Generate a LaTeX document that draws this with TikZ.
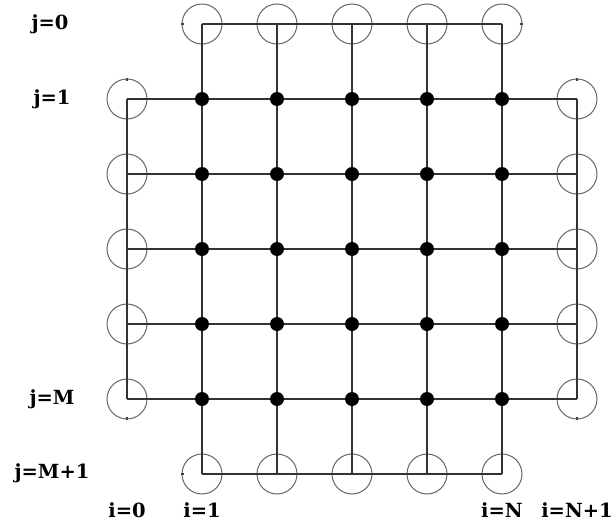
\documentclass[tikz,border=0pt]{standalone}
\usepackage{fontspec}
\setmainfont{DejaVu Serif}
\begin{document}
\begin{tikzpicture}[x=1pt,y=-1pt,
  gridline/.style={line width=2.2pt,draw=black!80},
  ghost/.style={circle,draw=black!60,line width=1pt,minimum size=40pt,inner sep=0pt,outer sep=0pt},
  interior/.style={circle,fill=black,minimum size=14pt,inner sep=0pt},
  lbl/.style={font=\fontsize{19.5}{22}\selectfont\bfseries,inner sep=0pt},
  tick/.style={draw=black!75,line width=1.3pt}]
\useasboundingbox (0,0) rectangle (614,525);
% grid coordinates
\foreach \i in {0,...,6}{
  \foreach \j in {0,...,6}{
    \coordinate (p\i-\j) at ({127+75*\i},{24+75*\j});
  }
}
% ghost circles
\foreach \k in {1,...,5}{
  \node[ghost] (t\k) at (p\k-0) {};
  \node[ghost] (b\k) at (p\k-6) {};
  \node[ghost] (l\k) at (p0-\k) {};
  \node[ghost] (r\k) at (p6-\k) {};
}
% lines
\foreach \k in {1,...,5}{
  \draw[gridline] (p0-\k) -- (p6-\k);
  \draw[gridline] (p\k-0) -- (p\k-6);
}
\draw[gridline] (p1-0) -- (p5-0);
\draw[gridline] (p1-6) -- (p5-6);
\draw[gridline] (p0-1) -- (p0-5);
\draw[gridline] (p6-1) -- (p6-5);
% interior dots
\foreach \i in {1,...,5}{
  \foreach \j in {1,...,5}{
    \node[interior] (d\i-\j) at (p\i-\j) {};
  }
}
% small ticks on corner circles
\draw[tick] (t1.west) ++(-1,0) -- ++(3,0);
\draw[tick] (t5.east) ++(1,0) -- ++(-3,0);
\draw[tick] (l1.north) ++(0,-1) -- ++(0,3);
\draw[tick] (r1.north) ++(0,-1) -- ++(0,3);
\draw[tick] (l5.south) ++(0,1) -- ++(0,-3);
\draw[tick] (r5.south) ++(0,1) -- ++(0,-3);
\draw[tick] (b1.west) ++(-1,0) -- ++(3,0);
% labels
\node[lbl] (lj0) at (50,24) {j=0};
\node[lbl] (lj1) at (52,99) {j=1};
\node[lbl] (ljM) at (52,399) {j=M};
\node[lbl] (ljM1) at (52,473) {j=M+1};
\node[lbl] (li0) at (127,510) {i=0};
\node[lbl] (li1) at (202,510) {i=1};
\node[lbl] (liN) at (502,510) {i=N};
\node[lbl] (liN1) at (577,510) {i=N+1};
\end{tikzpicture}
\end{document}
